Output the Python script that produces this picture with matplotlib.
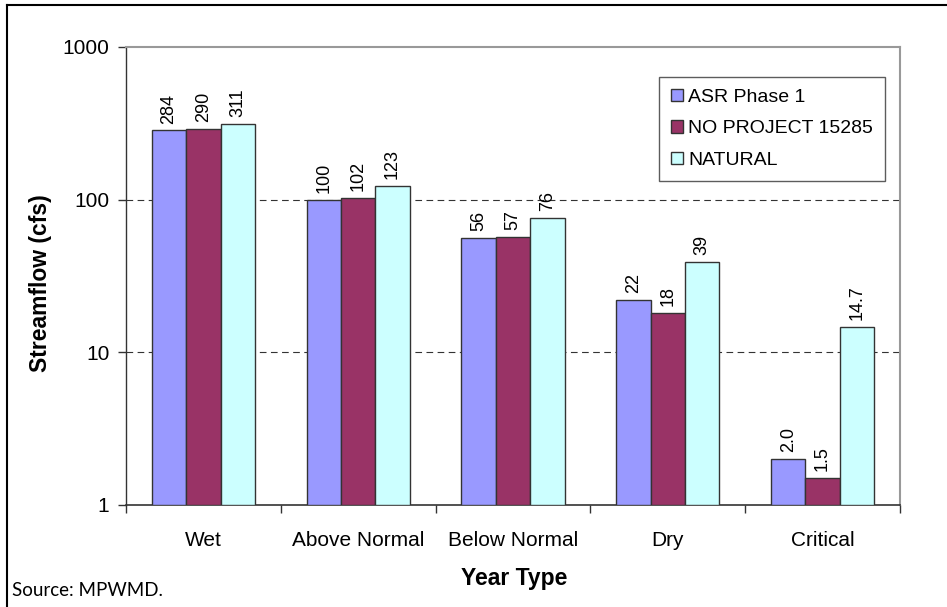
import matplotlib
matplotlib.use("Agg")
import matplotlib.pyplot as plt
import numpy as np
from matplotlib.lines import Line2D

# data
categories = ["Wet", "Above Normal", "Below Normal", "Dry", "Critical"]
series_names = ["ASR Phase 1", "NO PROJECT 15285", "NATURAL"]
asr_phase1 = [284, 100, 56, 22, 2.0]
no_project = [290, 102, 57, 18, 1.5]
natural = [311, 123, 76, 39, 14.7]
bar_labels = [
    ["284", "100", "56", "22", "2.0"],
    ["290", "102", "57", "18", "1.5"],
    ["311", "123", "76", "39", "14.7"],
]
colors = ["#9999FF", "#993366", "#CCFFFF"]

plt.rcParams["font.family"] = ["Liberation Sans", "DejaVu Sans"]

fig = plt.figure(figsize=(9.47, 6.07), dpi=100)
ax = fig.add_axes([126 / 947, 1 - 505 / 607, 774 / 947, 458 / 607])
ax.set_yscale("log")

x = np.arange(len(categories))
width = 0.222
for i, (vals, name, col) in enumerate(zip([asr_phase1, no_project, natural], series_names, colors)):
    pos = x + (i - 1) * width
    vals = np.asarray(vals, dtype=float)
    ax.bar(pos, vals - 1, width, bottom=1, color=col, edgecolor="#333333",
           linewidth=1.0, label=name, zorder=3)
    for p, v, txt in zip(pos, vals, bar_labels[i]):
        ax.annotate(txt, (p, v), xytext=(0, 5), textcoords="offset points", rotation=90,
                    ha="center", va="bottom", fontsize=13)

ax.set_ylim(1, 1000)
ax.set_xlim(-0.5, len(categories) - 0.5)
ax.set_yticks([1, 10, 100, 1000])
ax.set_yticklabels(["1", "10", "100", "1000"])
ax.yaxis.set_minor_locator(matplotlib.ticker.NullLocator())
for yv in [10, 100]:
    ax.axhline(yv, color="#333333", linestyle=(0, (6, 4)), linewidth=0.8, zorder=1)

# category labels centred, tick marks on category boundaries
ax.set_xticks(x)
ax.set_xticklabels(categories, fontsize=15)
ax.tick_params(axis="x", length=0, pad=19)
ax.set_xticks(np.arange(len(categories) + 1) - 0.5, minor=True)
ax.tick_params(axis="x", which="minor", length=6, width=1, color="#333333", direction="out")
ax.tick_params(axis="y", labelsize=15, length=6, width=1, color="#333333", direction="out", pad=6)

ax.spines["left"].set_color("#333333")
ax.spines["bottom"].set_color("#333333")
ax.spines["left"].set_linewidth(1.0)
ax.spines["bottom"].set_linewidth(1.2)
ax.spines["top"].set_color("#999999")
ax.spines["right"].set_color("#999999")
ax.spines["top"].set_linewidth(1.5)
ax.spines["right"].set_linewidth(1.5)

fig.text(40 / 947, 1 - 283 / 607, "Streamflow (cfs)", fontsize=16.5, fontweight="bold",
         rotation=90, ha="center", va="center")
fig.text(514 / 947, 1 - 578 / 607, "Year Type", fontsize=16.5, fontweight="bold",
         ha="center", va="center")
fig.text(12 / 947, 1 - 590 / 607, "Source: MPWMD.", fontsize=13.5, ha="left", va="center",
         family=["Lato", "DejaVu Sans"])

leg = ax.legend(loc="upper right", bbox_to_anchor=(885 / 947, 1 - 77 / 607),
                bbox_transform=fig.transFigure, fontsize=14, frameon=True, fancybox=False,
                handlelength=0.6, handleheight=0.6, handletextpad=0.3, labelspacing=0.75,
                borderpad=0.6, borderaxespad=0)
leg.get_frame().set_edgecolor("#333333")
leg.get_frame().set_linewidth(1.0)

# outer chart border (top and left visible)
fig.add_artist(Line2D([7 / 947, 1], [1 - 5 / 607, 1 - 5 / 607], color="black", lw=1.5,
                      transform=fig.transFigure))
fig.add_artist(Line2D([7 / 947, 7 / 947], [0, 1 - 5 / 607], color="black", lw=1.5,
                      transform=fig.transFigure))

fig.savefig("out.png", dpi=100)
